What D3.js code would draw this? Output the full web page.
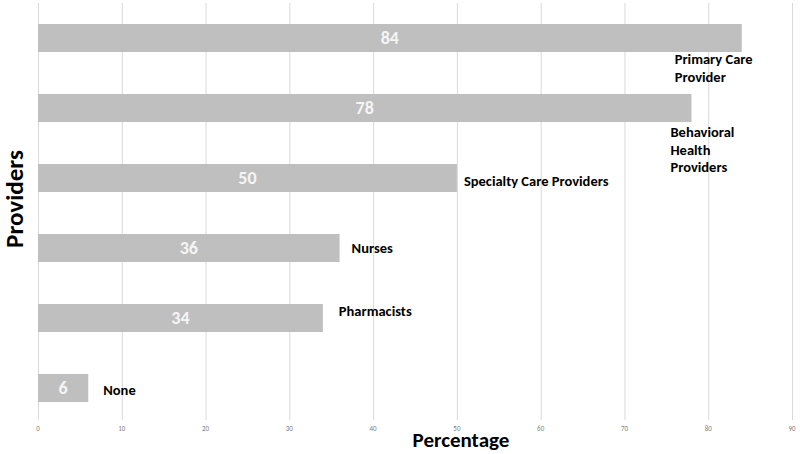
<!DOCTYPE html>
<html><head><meta charset="utf-8">
<script src="https://cdn.jsdelivr.net/npm/d3@7"></script>
<style>body{margin:0;background:#fff}svg{display:block;font-family:Carlito,Lato,"Open Sans","Liberation Sans",sans-serif}</style>
</head><body>
<svg id="c" width="800" height="454"></svg>
<script>
const categories = ["Primary Care Provider","Behavioral Health Providers","Specialty Care Providers","Nurses","Pharmacists","None"];
const labelLines = [["Primary Care","Provider"],["Behavioral","Health","Providers"],["Specialty Care Providers"],["Nurses"],["Pharmacists"],["None"]];
const values = [84,78,50,36,34,6];
const ticks = [0,10,20,30,40,50,60,70,80,90];

// label placement (style, not data): dx from bar end, dy from bar center
const labelPos = [{dx:-67,dy:21},{dx:-21,dy:24},{dx:7,dy:3},{dx:12,dy:0},{dx:16,dy:-7},{dx:15,dy:2}];

const svg = d3.select("#c");
const x = d3.scaleLinear().domain([0,90]).range([38,792]);
const y = d3.scaleBand().domain(categories).range([3,423]).paddingInner(0.6).paddingOuter(0.3);

// gridlines
svg.append("g").selectAll("line").data(ticks).join("line")
  .attr("x1",d=>x(d)+0.5).attr("x2",d=>x(d)+0.5).attr("y1",3).attr("y2",420)
  .attr("stroke","#d9d9d9").attr("stroke-width",1);

// tick labels
svg.append("g").selectAll("text").data(ticks).join("text")
  .attr("x",d=>x(d)).attr("y",430.5).attr("text-anchor","middle")
  .attr("font-size",7).attr("fill","#7f7f7f").text(d=>d);

// bars
svg.append("g").selectAll("rect").data(values).join("rect")
  .attr("x",x(0)).attr("y",(d,i)=>y(categories[i]))
  .attr("width",d=>x(d)-x(0)).attr("height",y.bandwidth())
  .attr("fill","#bfbfbf");

// value labels
svg.append("g").selectAll("text").data(values).join("text")
  .attr("x",d=>(x(0)+x(d))/2).attr("y",(d,i)=>y(categories[i])+y.bandwidth()/2)
  .attr("dy","0.36em").attr("text-anchor","middle")
  .attr("font-size",18).attr("font-weight","bold").attr("fill","#f5f5f5")
  .text(d=>d);

// category labels
const lg = svg.append("g");
values.forEach((v,i)=>{
  const lines = labelLines[i];
  const cx = x(v)+labelPos[i].dx;
  const cy = y(categories[i])+y.bandwidth()/2+labelPos[i].dy;
  const lh = 17.5;
  const t = lg.append("text").attr("font-size",14.5).attr("font-weight","bold").attr("fill","#000");
  lines.forEach((l,j)=>{
    t.append("tspan").attr("x",cx).attr("y",cy+j*lh).attr("dy","0.36em").text(l);
  });
});

// axis titles
svg.append("text").attr("x",461).attr("y",447).attr("text-anchor","middle")
  .attr("font-size",21).attr("font-weight","bold").text("Percentage");
svg.append("text").attr("transform","translate(14,199) rotate(-90)").attr("dy","0.36em")
  .attr("text-anchor","middle").attr("font-size",25).attr("font-weight","bold").text("Providers");
</script>
</body></html>
